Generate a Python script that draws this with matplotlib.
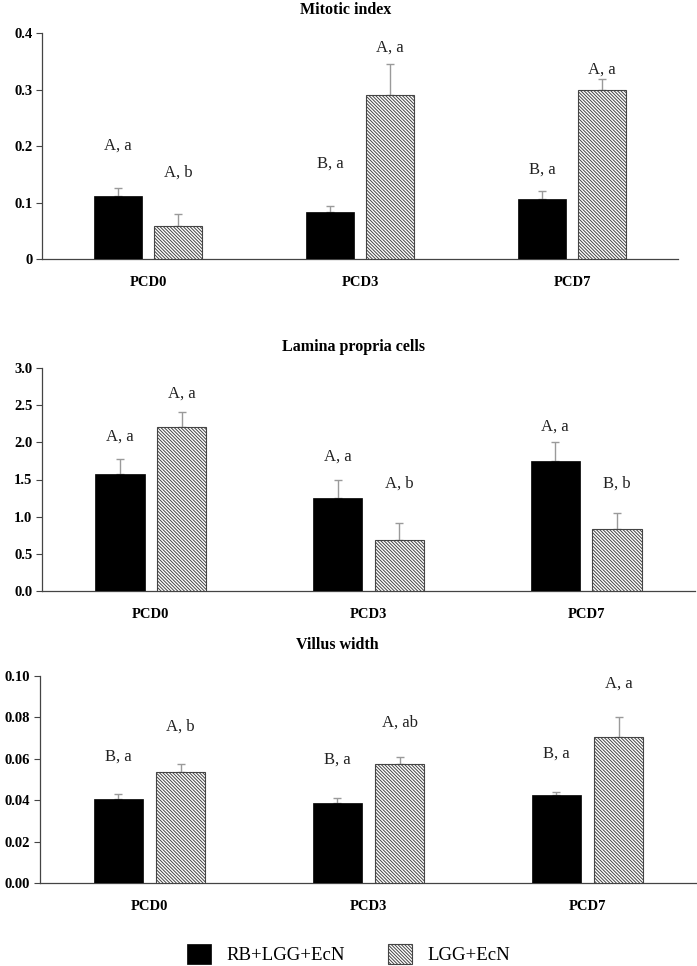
import matplotlib
matplotlib.use("Agg")
import matplotlib.pyplot as plt
import numpy as np

plt.rcParams['font.family'] = ['Liberation Serif', 'DejaVu Serif']
plt.rcParams['hatch.linewidth'] = 0.7
plt.rcParams['hatch.color'] = '#333333'

categories = ["PCD0", "PCD3", "PCD7"]
series_names = ["RB+LGG+EcN", "LGG+EcN"]

# Mitotic index
mi_rb = [0.112, 0.084, 0.106]
mi_rb_err = [0.013, 0.010, 0.014]
mi_lgg = [0.059, 0.290, 0.299]
mi_lgg_err = [0.020, 0.056, 0.020]
mi_rb_lab = ["A, a", "B, a", "B, a"]
mi_lgg_lab = ["A, b", "A, a", "A, a"]
mi_rb_lab_y = [0.200, 0.169, 0.159]
mi_lgg_lab_y = [0.153, 0.374, 0.336]
mi_ticks = [0, 0.1, 0.2, 0.3, 0.4]
mi_ticklabels = ["0", "0.1", "0.2", "0.3", "0.4"]

# Lamina propria cells
lp_rb = [1.58, 1.255, 1.754]
lp_rb_err = [0.20, 0.245, 0.246]
lp_lgg = [2.21, 0.68, 0.83]
lp_lgg_err = [0.20, 0.23, 0.22]
lp_rb_lab = ["A, a", "A, a", "A, a"]
lp_lgg_lab = ["A, a", "A, b", "B, b"]
lp_rb_lab_y = [2.08, 1.81, 2.21]
lp_lgg_lab_y = [2.65, 1.45, 1.45]
lp_ticks = [0.0, 0.5, 1.0, 1.5, 2.0, 2.5, 3.0]
lp_ticklabels = ["0.0", "0.5", "1.0", "1.5", "2.0", "2.5", "3.0"]

# Villus width
vw_rb = [0.0407, 0.0386, 0.0424]
vw_rb_err = [0.0022, 0.0027, 0.0016]
vw_lgg = [0.0535, 0.0574, 0.0704]
vw_lgg_err = [0.0039, 0.0035, 0.0100]
vw_rb_lab = ["B, a", "B, a", "B, a"]
vw_lgg_lab = ["A, b", "A, ab", "A, a"]
vw_rb_lab_y = [0.0610, 0.0598, 0.0627]
vw_lgg_lab_y = [0.0756, 0.0775, 0.0965]
vw_ticks = [0.00, 0.02, 0.04, 0.06, 0.08, 0.10]
vw_ticklabels = ["0.00", "0.02", "0.04", "0.06", "0.08", "0.10"]

titles = ["Mitotic index", "Lamina propria cells", "Villus width"]

W, H = 697, 966
fig = plt.figure(figsize=(W / 100, H / 100), dpi=100)

def rect(l, r, top, bot):
    return [l / W, 1 - bot / H, (r - l) / W, (bot - top) / H]

panels = [
    dict(rect=rect(42, 678, 33, 259), rb=mi_rb, rbe=mi_rb_err, lg=mi_lgg, lge=mi_lgg_err,
         rbl=mi_rb_lab, lgl=mi_lgg_lab, rbly=mi_rb_lab_y, lgly=mi_lgg_lab_y,
         ticks=mi_ticks, tl=mi_ticklabels, title_xy=(346, 10)),
    dict(rect=rect(42, 695, 368, 591), rb=lp_rb, rbe=lp_rb_err, lg=lp_lgg, lge=lp_lgg_err,
         rbl=lp_rb_lab, lgl=lp_lgg_lab, rbly=lp_rb_lab_y, lgly=lp_lgg_lab_y,
         ticks=lp_ticks, tl=lp_ticklabels, title_xy=(354, 347)),
    dict(rect=rect(40, 697, 676, 883), rb=vw_rb, rbe=vw_rb_err, lg=vw_lgg, lge=vw_lgg_err,
         rbl=vw_rb_lab, lgl=vw_lgg_lab, rbly=vw_rb_lab_y, lgly=vw_lgg_lab_y,
         ticks=vw_ticks, tl=vw_ticklabels, title_xy=(337, 645)),
]

x = np.arange(len(categories))
off = 0.142
bw = 0.226
err_kw = dict(ecolor='#9a9a9a', elinewidth=1.0, capsize=3, capthick=1.0)
hatch = '\\' * 10

handles = None
for p, title in zip(panels, titles):
    ax = fig.add_axes(p['rect'])
    b1 = ax.bar(x - off, p['rb'], bw, color='black', edgecolor='black', linewidth=0.5, zorder=3)
    ax.errorbar(x - off, p['rb'], yerr=[np.zeros(3), p['rbe']], fmt='none', zorder=2, **err_kw)
    b2 = ax.bar(x + off, p['lg'], bw, color='white', edgecolor='#444444', linewidth=0.8,
                hatch=hatch, zorder=3)
    ax.errorbar(x + off, p['lg'], yerr=[np.zeros(3), p['lge']], fmt='none', zorder=2, **err_kw)
    if handles is None:
        handles = [b1, b2]
    for i in range(3):
        ax.text(x[i] - off, p['rbly'][i], p['rbl'][i], ha='center', va='center', fontsize=12, color='#222222')
        ax.text(x[i] + off, p['lgly'][i], p['lgl'][i], ha='center', va='center', fontsize=12, color='#222222')
    ax.set_xlim(-0.5, 2.5)
    ax.set_ylim(p['ticks'][0], p['ticks'][-1])
    ax.set_yticks(p['ticks'])
    ax.set_yticklabels(p['tl'], fontsize=10.5, fontweight='bold')
    ax.set_xticks(x)
    ax.set_xticklabels(categories, fontsize=10.5, fontweight='bold')
    ax.tick_params(axis='x', length=0, pad=12)
    ax.tick_params(axis='y', length=4, width=0.8, color='#444444', pad=3)
    for s in ['top', 'right']:
        ax.spines[s].set_visible(False)
    for s in ['left', 'bottom']:
        ax.spines[s].set_color('#444444')
        ax.spines[s].set_linewidth(0.9)
    tx, ty = p['title_xy']
    fig.text(tx / W, 1 - ty / H, title, ha='center', va='center', fontsize=11.5, fontweight='bold')

fig.legend(handles, series_names, loc='center', bbox_to_anchor=(0.5, 1 - 954 / H), ncol=2,
           frameon=False, fontsize=13.5, handlelength=1.3, handleheight=1.3,
           handletextpad=0.8, columnspacing=2.3, borderaxespad=0, borderpad=0)

fig.savefig("out.png", dpi=100)
